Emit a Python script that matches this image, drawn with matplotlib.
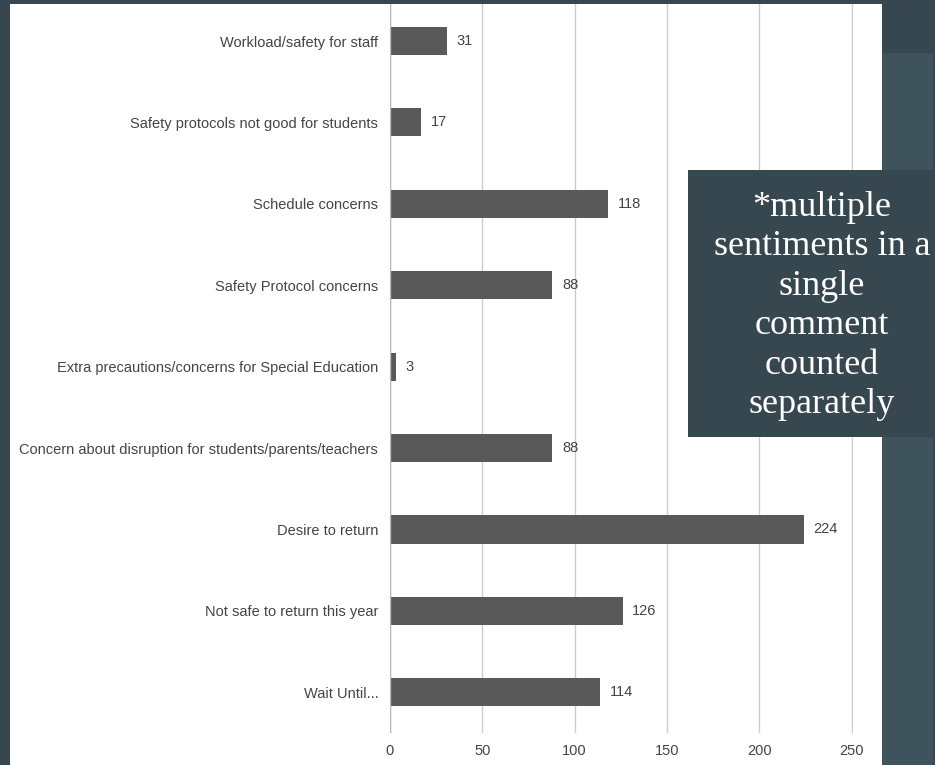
import matplotlib
matplotlib.use("Agg")
import matplotlib.pyplot as plt
from matplotlib.patches import Rectangle

categories = [
    "Workload/safety for staff",
    "Safety protocols not good for students",
    "Schedule concerns",
    "Safety Protocol concerns",
    "Extra precautions/concerns for Special Education",
    "Concern about disruption for students/parents/teachers",
    "Desire to return",
    "Not safe to return this year",
    "Wait Until...",
]
counts = [31, 17, 118, 88, 3, 88, 224, 126, 114]
x_ticks = [0, 50, 100, 150, 200, 250]
note_text = "*multiple\nsentiments in a\nsingle\ncomment\ncounted\nseparately"

W, H = 935, 765
DARK = "#37474f"
PANEL = "#3f535d"
BAR = "#595959"
TEXT = "#444444"
GRID = "#cccccc"
FS = 10.5

fig = plt.figure(figsize=(W / 100, H / 100), dpi=100)
fig.patch.set_facecolor(DARK)

def px_rect(x0, y0, x1, y1, **kw):
    # rectangle given in pixel coordinates measured from the top-left corner
    return Rectangle((x0 / W, 1 - y1 / H), (x1 - x0) / W, (y1 - y0) / H,
                     transform=fig.transFigure, **kw)

fig.add_artist(px_rect(9.5, 4, 882, 765, facecolor="white", edgecolor="none", zorder=-2))
fig.add_artist(px_rect(882, 53, 933, 765, facecolor=PANEL, edgecolor="none", zorder=-2))

# axes spans 0..251 so the 250 gridline is not clipped at the edge
px_per_unit = (851.5 - 390) / 250
x_max = 251
ax_left, ax_right, ax_top, ax_bottom = 390, 390 + x_max * px_per_unit, 4, 733
ax = fig.add_axes([ax_left / W, 1 - ax_bottom / H,
                   (ax_right - ax_left) / W, (ax_bottom - ax_top) / H])
ax.patch.set_visible(False)

ypos = list(range(len(categories)))
ax.barh(ypos, counts, height=0.345, color=BAR, zorder=3)
for y, v in zip(ypos, counts):
    ax.text(v + 5.2, y, str(v), va="center", ha="left", fontsize=FS,
            color=TEXT, family="Liberation Sans")

ax.set_xlim(0, x_max)
ax.set_ylim(8.5, -0.455)
ax.set_xticks(x_ticks)
ax.set_yticks(ypos)
ax.set_yticklabels(categories)
ax.tick_params(axis="both", length=0, labelsize=FS, labelcolor=TEXT)
ax.tick_params(axis="y", pad=8.5)
ax.tick_params(axis="x", pad=8)
for lab in ax.get_xticklabels() + ax.get_yticklabels():
    lab.set_family("Liberation Sans")
ax.grid(axis="x", color=GRID, linewidth=1, zorder=0)
ax.grid(axis="y", visible=False)
for s in ax.spines.values():
    s.set_visible(False)
ax.axvline(0, color="#b8b8b8", linewidth=1, zorder=4)

# note box
fig.add_artist(px_rect(688, 170, 933, 437, facecolor=DARK, edgecolor="none", zorder=10))
fig.text(822 / W, 1 - 306 / H, note_text, ha="center", va="center",
         fontsize=26, color="white", family="Liberation Serif",
         linespacing=1.26, zorder=11)

fig.savefig("out.png", dpi=100, facecolor=fig.get_facecolor())
